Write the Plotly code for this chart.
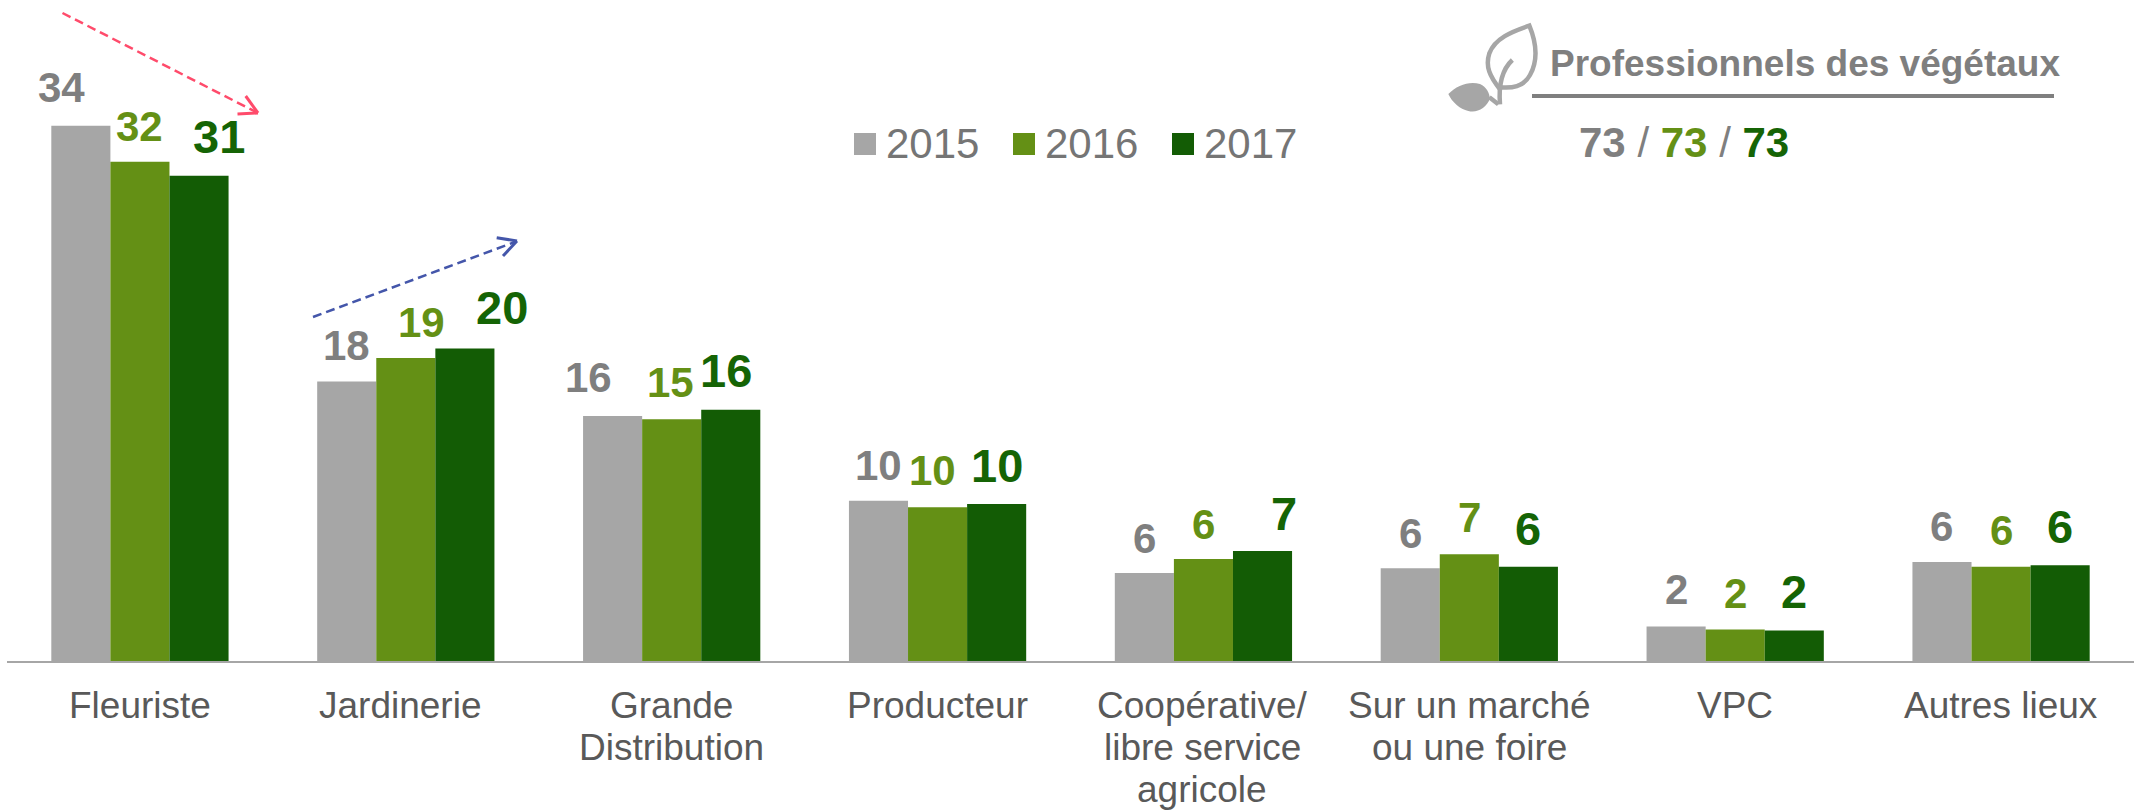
import plotly.graph_objects as go

# ---------- data ----------
categories = ["Fleuriste", "Jardinerie", "Grande Distribution", "Producteur",
              "Coopérative/ libre service agricole", "Sur un marché ou une foire",
              "VPC", "Autres lieux"]
category_lines = [["Fleuriste"], ["Jardinerie"], ["Grande", "Distribution"], ["Producteur"],
                  ["Coopérative/", "libre service", "agricole"], ["Sur un marché", "ou une foire"],
                  ["VPC"], ["Autres lieux"]]
years = ["2015", "2016", "2017"]
values_2015 = [34.1, 17.8, 15.6, 10.2, 5.6, 5.9, 2.2, 6.3]
values_2016 = [31.8, 19.3, 15.4, 9.8, 6.5, 6.8, 2.0, 6.0]
values_2017 = [30.9, 19.9, 16.0, 10.0, 7.0, 6.0, 1.95, 6.1]
labels_2015 = [34, 18, 16, 10, 6, 6, 2, 6]
labels_2016 = [32, 19, 15, 10, 6, 7, 2, 6]
labels_2017 = [31, 20, 16, 10, 7, 6, 2, 6]
totals = [73, 73, 73]
panel_title = "Professionnels des végétaux"

# ---------- style ----------
W, H = 2134, 811
L, B = 7, 150
PW, PH = W - L, H - B
Y_MAX = PH / 15.7
BAR_COLORS = ["#A6A6A6", "#649015", "#135C05"]
TEXT_COLORS = ["#7F7F7F", "#649015", "#156405"]
LABEL_SIZES = [42, 42, 47]
CAT_SIZE = 37
FONT = "Liberation Sans, Arial, sans-serif"
# per-label nudges in pixels (horizontal from bar centre, gap of baseline above bar)
dx = [[-19, 0, 20], [0, 16, 37], [-24, -1, -5], [0, -5, 0],
      [0, 0, 21], [0, 0, 0], [0, 0, 0], [0, 0, 0]]
gap = [[22.7, 20, 22], [20, 20, 23.7], [23, 21, 22], [20, 21, 21],
       [19, 19, 20], [19, 21, 21], [21, 21, 21], [20, 21, 21]]
# horizontal nudges of the category labels, in pixels
cat_dx = [0, -5.5, 0, 0, -1, 0, 0, 0]


def px(x):
    return (x - L) / PW


def py(y):
    return 1 - y / PH


def seg(x0, y0, x1, y1, color, width=2, dash="solid"):
    return dict(type="line", xref="paper", yref="paper", x0=px(x0), y0=py(y0), x1=px(x1), y1=py(y1),
                line=dict(color=color, width=width, dash=dash))


def text_at(x, baseline, text, size, color, bold=False, anchor="center"):
    t = f"<b>{text}</b>" if bold else text
    return dict(xref="paper", yref="paper", x=px(x), y=py(baseline - 0.346 * size), text=t, showarrow=False,
                xanchor=anchor, yanchor="middle", borderpad=0,
                font=dict(family=FONT, size=size, color=color))


def leaf(X, Y):
    return f"{px(1440 + X / 3):.5f},{py(10 + Y / 3):.5f}"


fig = go.Figure()
series = [values_2015, values_2016, values_2017]
labels = [labels_2015, labels_2016, labels_2017]
for k, yr in enumerate(years):
    fig.add_trace(go.Bar(x=categories, y=series[k], name=yr, marker=dict(color=BAR_COLORS[k], line=dict(width=0)),
                         showlegend=False))

annotations = []
shapes = []
# value labels
for k in range(3):
    size = LABEL_SIZES[k]
    for i, v in enumerate(series[k]):
        annotations.append(dict(
            xref="x", yref="y", x=i + (k - 1) * 2 / 9, y=v, text=f"<b>{labels[k][i]}</b>", showarrow=False,
            xanchor="center", yanchor="bottom", borderpad=0, xshift=dx[i][k],
            yshift=gap[i][k] - 0.212 * size,
            font=dict(family=FONT, size=size, color=TEXT_COLORS[k])))

# category labels (tight line spacing)
for i, lines in enumerate(category_lines):
    for j, line in enumerate(lines):
        baseline = 718.5 + 42.0 * j
        annotations.append(dict(xref="x", yref="paper", x=i, y=py(baseline - 0.346 * CAT_SIZE), text=line,
                                showarrow=False, xanchor="center", yanchor="middle", borderpad=0, xshift=cat_dx[i],
                                font=dict(family=FONT, size=CAT_SIZE, color="#595959")))

# legend
for k, (sx, tx) in enumerate(zip([854, 1013, 1172], [885, 1044, 1203])):
    shapes.append(dict(type="rect", xref="paper", yref="paper", x0=px(sx), x1=px(sx + 22), y0=py(155), y1=py(133),
                       fillcolor=BAR_COLORS[k], line=dict(width=0)))
    annotations.append(text_at(tx, 158, years[k], 42, "#757575", anchor="left"))

# header
annotations.append(text_at(1804.5, 76, panel_title, 37, "#7F7F7F", bold=True))
shapes.append(seg(1532, 96, 2054, 96, "#7F7F7F", width=4))
total_text = (f'<b><span style="color:{TEXT_COLORS[0]}">{totals[0]}</span></b>'
              f' <span style="color:{TEXT_COLORS[0]}">/</span> '
              f'<b><span style="color:{TEXT_COLORS[1]}">{totals[1]}</span></b>'
              f' <span style="color:{TEXT_COLORS[0]}">/</span> '
              f'<b><span style="color:{TEXT_COLORS[2]}">{totals[2]}</span></b>')
annotations.append(text_at(1683.5, 157, total_text, 42, "#7F7F7F"))

# trend arrows
RED, BLUE = "#FF4B6B", "#4456AA"
shapes += [seg(62.5, 13, 256, 112, RED, 2.5, "9px,5px"),
           seg(258, 113, 237.5, 114, RED, 3), seg(258, 113, 245.7, 96, RED, 3),
           seg(313, 317, 515, 242, BLUE, 2.5, "9px,5px"),
           seg(517, 241, 496.7, 237.7, BLUE, 3), seg(517, 241, 503, 256, BLUE, 3)]

# leaf icon
ICON = "#A6A6A6"
upper = (f"M{leaf(180, 238)} C{leaf(150, 200)} {leaf(135, 170)} {leaf(148, 130)} "
         f"C{leaf(165, 85)} {leaf(215, 65)} {leaf(268, 47)} "
         f"C{leaf(290, 100)} {leaf(295, 150)} {leaf(270, 195)} "
         f"C{leaf(250, 232)} {leaf(215, 235)} {leaf(180, 232)}")
vein = f"M{leaf(217, 150)} C{leaf(190, 175)} {leaf(175, 220)} {leaf(180, 283)}"
lower = (f"M{leaf(25, 252)} C{leaf(50, 225)} {leaf(90, 212)} {leaf(120, 222)} "
         f"C{leaf(140, 230)} {leaf(148, 250)} {leaf(150, 265)} "
         f"C{leaf(140, 295)} {leaf(110, 310)} {leaf(85, 303)} "
         f"C{leaf(60, 298)} {leaf(35, 275)} {leaf(25, 252)} Z")
stem = f"M{leaf(148, 262)} L{leaf(175, 283)}"
shapes += [dict(type="path", xref="paper", yref="paper", path=upper, line=dict(color=ICON, width=4.5)),
           dict(type="path", xref="paper", yref="paper", path=vein, line=dict(color=ICON, width=4.5)),
           dict(type="path", xref="paper", yref="paper", path=lower, fillcolor=ICON, line=dict(width=0)),
           dict(type="path", xref="paper", yref="paper", path=stem, line=dict(color=ICON, width=4.5))]

fig.update_layout(
    width=W, height=H, margin=dict(l=L, r=0, t=0, b=B, pad=0),
    paper_bgcolor="white", plot_bgcolor="white",
    barmode="group", bargap=1 / 3, bargroupgap=0, showlegend=False,
    font=dict(family=FONT),
    xaxis=dict(type="category", categoryorder="array", categoryarray=categories, range=[-0.5, 7.5],
               showticklabels=False, ticks="", showline=True, linecolor="#A6A6A6", linewidth=2, showgrid=False,
               zeroline=False),
    yaxis=dict(range=[0, Y_MAX], visible=False, showgrid=False, zeroline=False),
    annotations=annotations, shapes=shapes,
)

# the page's default 8px body margin would push the figure out of the window
fig.write_html("out.html", config={"displayModeBar": False},
               post_script="document.body.style.margin='0';document.body.style.overflow='hidden';")
